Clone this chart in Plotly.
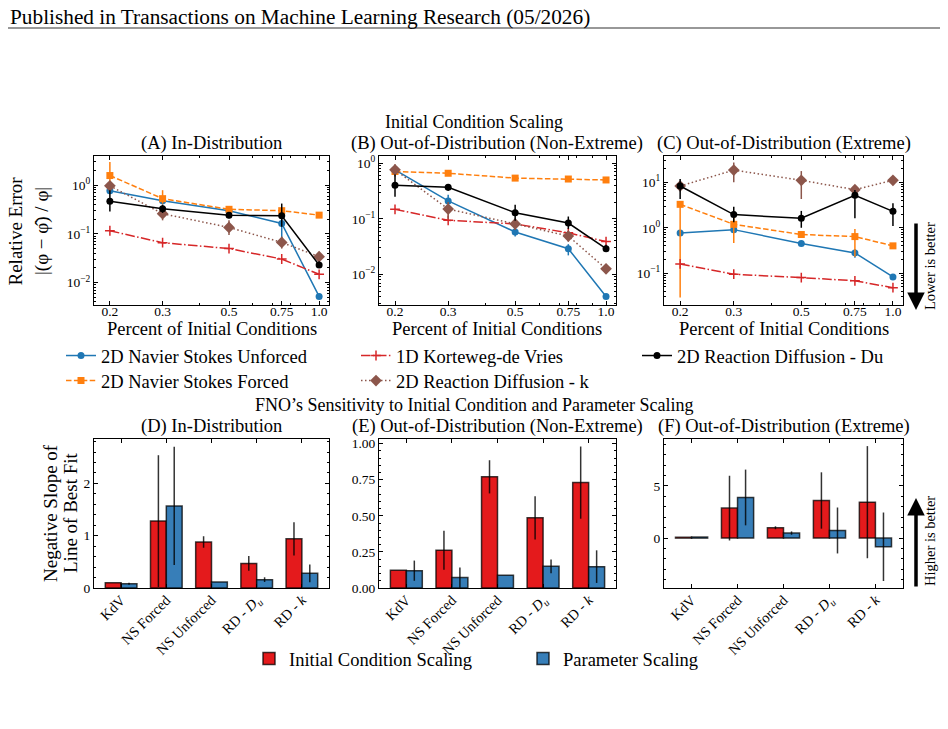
import plotly.graph_objects as go

FONT = "Liberation Serif"
W, H = 948, 729

# ---------------- data: error vs. percent of initial conditions ----------------
pct = [0.2, 0.3, 0.5, 0.75, 1.0]
pct_labels = ["0.2", "0.3", "0.5", "0.75", "1.0"]

# (A) In-Distribution
A_unf = [0.77, 0.48, 0.30, 0.164, 0.0052]
A_unf_lo = [0.72, 0.45, 0.28, 0.055, 0.0049]
A_unf_hi = [0.82, 0.51, 0.32, 0.21, 0.0055]
A_for = [1.58, 0.53, 0.32, 0.30, 0.243]
A_for_lo = [0.85, 0.42, 0.30, 0.28, 0.23]
A_for_hi = [3.0, 0.79, 0.34, 0.32, 0.256]
A_kdv = [0.116, 0.066, 0.050, 0.0305, 0.0148]
A_rdk = [0.97, 0.26, 0.136, 0.067, 0.034]
A_rdk_lo = [0.82, 0.19, 0.095, 0.05, 0.027]
A_rdk_hi = [1.15, 0.33, 0.19, 0.088, 0.043]
A_rdu = [0.47, 0.33, 0.243, 0.235, 0.023]
A_rdu_lo = [0.29, 0.27, 0.21, 0.14, 0.020]
A_rdu_hi = [0.79, 0.40, 0.28, 0.42, 0.027]

# (B) Out-of-Distribution (Non-Extreme)
B_unf = [0.76, 0.21, 0.058, 0.029, 0.0040]
B_unf_lo = [0.72, 0.18, 0.048, 0.022, 0.0038]
B_unf_hi = [0.80, 0.27, 0.069, 0.035, 0.0042]
B_for = [0.71, 0.66, 0.54, 0.52, 0.50]
B_kdv = [0.148, 0.094, 0.081, 0.056, 0.039]
B_rdk = [0.76, 0.15, 0.081, 0.049, 0.0126]
B_rdk_lo = [0.58, 0.10, 0.063, 0.039, 0.0105]
B_rdk_hi = [0.96, 0.20, 0.10, 0.06, 0.015]
B_rdu = [0.40, 0.37, 0.129, 0.084, 0.029]
B_rdu_lo = [0.25, 0.32, 0.092, 0.066, 0.026]
B_rdu_hi = [0.63, 0.42, 0.18, 0.11, 0.034]

# (C) Out-of-Distribution (Extreme)
C_unf = [0.77, 0.91, 0.45, 0.28, 0.083]
C_unf_lo = [0.72, 0.85, 0.42, 0.22, 0.078]
C_unf_hi = [0.82, 0.97, 0.48, 0.34, 0.088]
C_for = [3.28, 1.19, 0.71, 0.64, 0.40]
C_for_lo = [0.029, 0.46, 0.61, 0.23, 0.38]
C_for_hi = [3.75, 1.9, 0.82, 0.94, 0.42]
C_kdv = [0.16, 0.095, 0.080, 0.068, 0.048]
C_rdk = [8.3, 18.6, 11.1, 6.9, 11.1]
C_rdk_lo = [6.4, 10.0, 4.3, 5.4, 10.0]
C_rdk_hi = [10.7, 27.5, 17.7, 8.7, 12.2]
C_rdu = [8.3, 1.95, 1.62, 5.2, 2.3]
C_rdu_lo = [4.3, 1.32, 1.0, 1.62, 1.1]
C_rdu_hi = [11.8, 2.9, 2.35, 6.8, 3.46]

# ---------------- data: negative slope of line of best fit ----------------
bar_cats = ["KdV", "NS Forced", "NS Unforced",
            "RD - <i>D</i><sub><i>u</i></sub>", "RD - <i>k</i>"]
bar_series = ["Initial Condition Scaling", "Parameter Scaling"]

D_ic = [0.10, 1.28, 0.88, 0.47, 0.94]
D_ic_err = [0.0, 1.26, 0.11, 0.14, 0.32]
D_par = [0.08, 1.57, 0.115, 0.16, 0.28]
D_par_err = [0.02, 1.13, 0.0, 0.045, 0.17]

E_ic = [0.123, 0.262, 0.77, 0.486, 0.73]
E_ic_err = [0.0, 0.135, 0.115, 0.15, 0.25]
E_par = [0.12, 0.072, 0.088, 0.15, 0.148]
E_par_err = [0.07, 0.07, 0.0, 0.047, 0.113]

F_ic = [0.08, 2.87, 0.99, 3.6, 3.44]
F_ic_err = [0.0, 3.1, 0.14, 2.7, 5.37]
F_par = [0.1, 3.89, 0.48, 0.73, -0.83]
F_par_err = [0.0, 2.67, 0.16, 2.2, 3.28]

# ---------------- styles ----------------
STY = {
    "unf": dict(name="2D Navier Stokes Unforced", color="#1f77b4", dash="solid",
                symbol="circle", size=7, legend="legend"),
    "for": dict(name="2D Navier Stokes Forced", color="#ff7f0e", dash="5.5px,2.4px",
                symbol="square", size=7, legend="legend2"),
    "kdv": dict(name="1D Korteweg-de Vries", color="#d62728",
                dash="9.6px,2.4px,1.5px,2.4px", symbol="cross-thin", size=7,
                legend="legend3"),
    "rdk": dict(name="2D Reaction Diffusion - k", color="#8c564b", dash="1.5px,2.5px",
                symbol="diamond", size=9, legend="legend4"),
    "rdu": dict(name="2D Reaction Diffusion - Du", color="black", dash="solid",
                symbol="circle", size=7, legend="legend5"),
}
BAR_COL = ["#e41a1c", "#377eb8"]
BAR_LEG = ["legend6", "legend7"]

fig = go.Figure()


def add_line(key, xa, ya, vals, lo=None, hi=None, show=False):
    s = STY[key]
    err = None
    if lo is not None:
        err = dict(type="data", symmetric=False,
                   array=[h - v for h, v in zip(hi, vals)],
                   arrayminus=[v - l for v, l in zip(vals, lo)],
                   color=s["color"], thickness=1.5, width=0)
    mline = dict(width=1.5, color=s["color"]) if s["symbol"] == "cross-thin" else dict(width=0)
    fig.add_trace(go.Scatter(
        x=pct, y=vals, xaxis=xa, yaxis=ya, name=s["name"], mode="lines+markers",
        line=dict(color=s["color"], width=1.5, dash=s["dash"]),
        marker=dict(symbol=s["symbol"], size=s["size"], color=s["color"], line=mline),
        error_y=err, showlegend=show, legend=s["legend"]))


panels = [
    ("x", "y", [("unf", A_unf, A_unf_lo, A_unf_hi), ("for", A_for, A_for_lo, A_for_hi),
                ("kdv", A_kdv, None, None), ("rdk", A_rdk, A_rdk_lo, A_rdk_hi),
                ("rdu", A_rdu, A_rdu_lo, A_rdu_hi)], True),
    ("x2", "y2", [("unf", B_unf, B_unf_lo, B_unf_hi), ("for", B_for, None, None),
                  ("kdv", B_kdv, None, None), ("rdk", B_rdk, B_rdk_lo, B_rdk_hi),
                  ("rdu", B_rdu, B_rdu_lo, B_rdu_hi)], False),
    ("x3", "y3", [("unf", C_unf, C_unf_lo, C_unf_hi), ("for", C_for, C_for_lo, C_for_hi),
                  ("kdv", C_kdv, None, None), ("rdk", C_rdk, C_rdk_lo, C_rdk_hi),
                  ("rdu", C_rdu, C_rdu_lo, C_rdu_hi)], False),
]
for xa, ya, series, show in panels:
    for key, v, lo, hi in series:
        add_line(key, xa, ya, v, lo, hi, show)

bar_panels = [
    ("x4", "y4", D_ic, D_ic_err, D_par, D_par_err, True),
    ("x5", "y5", E_ic, E_ic_err, E_par, E_par_err, False),
    ("x6", "y6", F_ic, F_ic_err, F_par, F_par_err, False),
]
for xa, ya, ic, ice, par, pare, show in bar_panels:
    for i, (vals, errs) in enumerate([(ic, ice), (par, pare)]):
        fig.add_trace(go.Bar(
            x=bar_cats, y=vals, xaxis=xa, yaxis=ya, name=bar_series[i],
            marker=dict(color=BAR_COL[i], line=dict(color="rgba(0,0,0,0.75)", width=1.5)),
            error_y=dict(type="data", array=errs, color="rgba(0,0,0,0.8)",
                         thickness=1.5, width=0),
            showlegend=show, legend=BAR_LEG[i], offsetgroup=str(i)))


def xd(a, b):
    return [a / W, b / W]


def yd(top, bot):
    return [1 - bot / H, 1 - top / H]


tickfont = dict(family=FONT, size=13.5, color="black")
ax_common = dict(showline=True, linecolor="black", linewidth=1, mirror="allticks",
                 ticks="inside", ticklen=4, tickwidth=1, tickcolor="black",
                 showgrid=False, zeroline=False, tickfont=tickfont, automargin=False)


def logminor(d0, d1):
    return [m * 10 ** d for d in range(d0, d1 + 1) for m in range(2, 10)]


xlog = dict(ax_common, type="log", range=[-0.752, 0.033], tickvals=pct,
            ticktext=pct_labels, ticklabelstandoff=-6,
            minor=dict(ticks="inside", ticklen=2, tickcolor="black",
                       tickvals=[0.4, 0.6, 0.7, 0.8, 0.9]))

col_x = [(94, 329), (379, 616), (664, 903)]
top_row = (156, 305)
bot_row = (439, 588)

ylog_specs = [
    ([-2.46, 0.6], [0.01, 0.1, 1], ["10<sup>−2</sup>", "10<sup>−1</sup>", "10<sup>0</sup>"], (-3, 0)),
    ([-2.55, 0.13], [0.01, 0.1, 1], ["10<sup>−2</sup>", "10<sup>−1</sup>", "10<sup>0</sup>"], (-3, 0)),
    ([-1.70, 1.58], [0.1, 1, 10], ["10<sup>−1</sup>", "10<sup>0</sup>", "10<sup>1</sup>"], (-2, 1)),
]

layout = {}
for i in range(3):
    n = "" if i == 0 else str(i + 1)
    rng, tv, tt, dec = ylog_specs[i]
    layout["xaxis" + n] = dict(xlog, domain=xd(*col_x[i]), anchor="y" + n)
    layout["yaxis" + n] = dict(ax_common, type="log", range=rng, tickvals=tv, ticktext=tt,
                               domain=yd(*top_row), anchor="x" + n,
                               minor=dict(ticks="inside", ticklen=2, tickcolor="black",
                                          tickvals=logminor(*dec)))

bar_y_specs = [
    ([0, 2.85], [0, 1, 2], ["0", "1", "2"], 0.2),
    ([0, 1.032], [0, 0.25, 0.5, 0.75, 1.0], ["0.00", "0.25", "0.50", "0.75", "1.00"], 0.05),
    ([-4.78, 9.49], [0, 5], ["0", "5"], 1),
]
for i in range(3):
    n = str(i + 4)
    rng, tv, tt, mdt = bar_y_specs[i]
    layout["xaxis" + n] = dict(ax_common, type="category", range=[-0.6, 4.6],
                               domain=xd(*col_x[i]), anchor="y" + n, tickangle=-45,
                               ticklabelstandoff=-3,
                               tickfont=dict(family=FONT, size=14.5, color="black"))
    layout["yaxis" + n] = dict(ax_common, range=rng, tickvals=tv, ticktext=tt,
                               domain=yd(*bot_row), anchor="x" + n,
                               minor=dict(ticks="inside", ticklen=2, tickcolor="black",
                                          dtick=mdt, tick0=0))

leg_common = dict(font=dict(family=FONT, size=18.5, color="black"), bgcolor="rgba(0,0,0,0)",
                  orientation="v", xanchor="left", yanchor="top", tracegroupgap=0,
                  itemwidth=30)
# one legend per entry, arranged in matplotlib's column layout
leg_pos = {"legend": (61, 337), "legend2": (61, 362),
           "legend3": (356, 337), "legend4": (356, 362),
           "legend5": (637, 337),
           "legend6": (249, 640), "legend7": (523, 640)}
for k, (lx, ly) in leg_pos.items():
    layout[k] = dict(leg_common, x=lx / W, y=1 - ly / H)


def ann(text, x, y, size=19, angle=0, xanchor="center"):
    return dict(text=text, x=x / W, y=1 - y / H, xref="paper", yref="paper",
                showarrow=False, textangle=angle, xanchor=xanchor, yanchor="middle",
                font=dict(family=FONT, size=size, color="black"))


annotations = [
    ann("Published in Transactions on Machine Learning Research (05/2026)", 8, 17,
        size=21.3, xanchor="left"),
    ann("Initial Condition Scaling", 474, 122, size=18),
    ann("(A) In-Distribution", 211.5, 143, size=18.5),
    ann("(B) Out-of-Distribution (Non-Extreme)", 497.5, 143, size=18.5),
    ann("(C) Out-of-Distribution (Extreme)", 783.5, 143, size=18.5),
    ann("Percent of Initial Conditions", 211.5, 329, size=18.5),
    ann("Percent of Initial Conditions", 497.5, 329, size=18.5),
    ann("Percent of Initial Conditions", 783.5, 329, size=18.5),
    ann("FNO’s Sensitivity to Initial Condition and Parameter Scaling", 474, 405, size=18),
    ann("(D) In-Distribution", 211.5, 426, size=18.5),
    ann("(E) Out-of-Distribution (Non-Extreme)", 497.5, 426, size=18.5),
    ann("(F) Out-of-Distribution (Extreme)", 783.5, 426, size=18.5),
    ann("Relative Error", 14.5, 231, angle=-90),
    ann("|(φ − φ̂) / φ|", 42, 231, angle=-90),
    ann("Negative Slope of", 50, 513, angle=-90),
    ann("Line of Best Fit", 70, 513, angle=-90),
    ann("Lower is better", 930, 266, size=14.5, angle=-90),
    ann("Higher is better", 930, 541, size=14.5, angle=-90),
    dict(x=916 / W, y=1 - 310 / H, xref="paper", yref="paper", ax=0, ay=-88,
         showarrow=True, arrowhead=2, arrowsize=1, arrowwidth=3.5, arrowcolor="black",
         text=""),
    dict(x=916 / W, y=1 - 498 / H, xref="paper", yref="paper", ax=0, ay=90,
         showarrow=True, arrowhead=2, arrowsize=1, arrowwidth=3.5, arrowcolor="black",
         text=""),
]

shapes = [dict(type="line", xref="paper", yref="paper", x0=8 / W, x1=940 / W,
               y0=1 - 28 / H, y1=1 - 28 / H, line=dict(color="#333333", width=1.2))]

fig.update_layout(
    width=W, height=H, margin=dict(l=0, r=0, t=0, b=0),
    paper_bgcolor="white", plot_bgcolor="white",
    barmode="group", bargap=0.3, bargroupgap=0,
    font=dict(family=FONT, color="black"),
    annotations=annotations, shapes=shapes, **layout)

fig.write_html("out.html")
